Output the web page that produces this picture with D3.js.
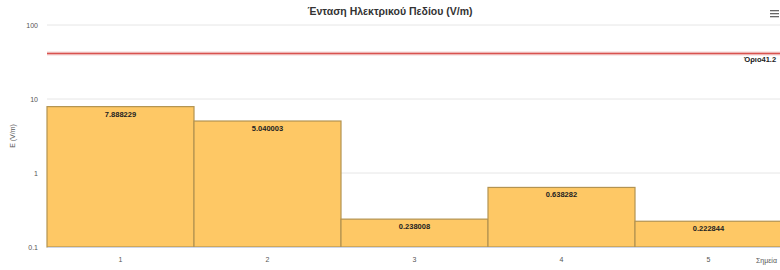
<!DOCTYPE html>
<html>
<head>
<meta charset="utf-8">
<script src="https://cdn.jsdelivr.net/npm/d3@7"></script>
<style>
  body { margin: 0; background: #fff; }
  text { font-family: "Liberation Sans", Arial, sans-serif; }
</style>
</head>
<body>
<div id="chart"></div>
<script>
// data
var points = ["1", "2", "3", "4", "5"];
var values = [7.888229, 5.040003, 0.238008, 0.638282, 0.222844];
var yTicks = [0.1, 1, 10, 100];
var limit = 41.2;

var W = 780, H = 270;
var margin = {top: 25, right: -2, bottom: 23, left: 47},
    width = W - margin.left - margin.right,
    height = H - margin.top - margin.bottom;

var svg = d3.select("#chart")
  .append("svg")
    .attr("width", W)
    .attr("height", H);

// title
svg.append("text")
  .attr("x", W / 2)
  .attr("y", 15)
  .attr("text-anchor", "middle")
  .style("font-size", "10.5px")
  .style("font-weight", "bold")
  .style("fill", "#333")
  .text("Ένταση Ηλεκτρικού Πεδίου (V/m)");

// menu icon
[0, 3, 6].forEach(function(d) {
  svg.append("rect")
    .attr("x", 770).attr("y", 10 + d)
    .attr("width", 9).attr("height", 1.3)
    .attr("fill", "#666");
});

var g = svg.append("g")
  .attr("transform", "translate(" + margin.left + "," + margin.top + ")");

var x = d3.scaleBand()
  .domain(points)
  .range([0, width])
  .padding(0);

var y = d3.scaleLog()
  .domain([0.1, 100])
  .range([height, 0]);

// grid
g.append("g")
  .selectAll("line")
  .data(yTicks)
  .enter()
  .append("line")
    .attr("x1", 0)
    .attr("x2", width)
    .attr("y1", function(d) { return y(d); })
    .attr("y2", function(d) { return y(d); })
    .attr("stroke", "#e6e6e6");

// y axis
var yAxis = g.append("g")
  .call(d3.axisLeft(y).tickValues(yTicks).tickSize(0).tickPadding(9)
    .tickFormat(function(d) { return d; }));
yAxis.select(".domain").remove();
yAxis.selectAll("text")
  .style("font-size", "7px")
  .style("fill", "#555")
  .style("font-family", "Liberation Sans, Arial, sans-serif");

svg.append("text")
  .attr("transform", "translate(15," + (margin.top + height / 2) + ") rotate(-90)")
  .attr("text-anchor", "middle")
  .style("font-size", "7px")
  .style("fill", "#555")
  .text("E (V/m)");

// bars
g.append("g")
  .selectAll("rect")
  .data(values)
  .enter()
  .append("rect")
    .attr("x", function(d, i) { return x(points[i]); })
    .attr("y", function(d) { return y(d); })
    .attr("width", x.bandwidth())
    .attr("height", function(d) { return height - y(d); })
    .attr("fill", "#fec865")
    .attr("stroke", "#b39350")
    .attr("stroke-width", 1.2);

// bar labels
g.append("g")
  .selectAll("text")
  .data(values)
  .enter()
  .append("text")
    .attr("x", function(d, i) { return x(points[i]) + x.bandwidth() / 2; })
    .attr("y", function(d) { return y(d) + 10; })
    .attr("text-anchor", "middle")
    .style("font-size", "7.5px")
    .style("font-weight", "bold")
    .style("fill", "#222")
    .text(function(d) { return d.toFixed(6); });

// limit line
g.append("line")
  .attr("x1", 0)
  .attr("x2", width)
  .attr("y1", y(limit))
  .attr("y2", y(limit))
  .attr("stroke", "#f3d6d6")
  .attr("stroke-width", 4);
g.append("line")
  .attr("x1", 0)
  .attr("x2", width)
  .attr("y1", y(limit))
  .attr("y2", y(limit))
  .attr("stroke", "#d9534f")
  .attr("stroke-width", 1.5);

svg.append("text")
  .attr("x", 744)
  .attr("y", margin.top + y(limit) + 9)
  .style("font-size", "7.5px")
  .style("font-weight", "bold")
  .style("fill", "#222")
  .text("Όριο" + limit);

// x axis
var xAxis = g.append("g")
  .attr("transform", "translate(0," + height + ")")
  .call(d3.axisBottom(x).tickSize(0).tickPadding(10));
xAxis.select(".domain").attr("stroke", "#ccd6eb");
xAxis.selectAll("text")
  .style("font-size", "7px")
  .style("fill", "#555")
  .style("font-family", "Liberation Sans, Arial, sans-serif");

svg.append("text")
  .attr("x", 756)
  .attr("y", margin.top + height + 16)
  .style("font-size", "7px")
  .style("fill", "#555")
  .text("Σημεία");
</script>
</body>
</html>
